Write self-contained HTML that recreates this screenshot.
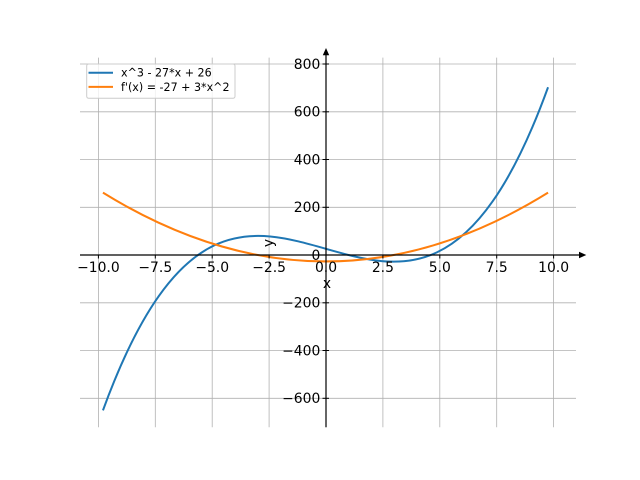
<!DOCTYPE html>
<html><head><meta charset="utf-8"><style>
html,body{margin:0;padding:0;background:#fff;}
svg{display:block;}
text{font-family:"DejaVu Sans","Liberation Sans",sans-serif;fill:#000;}
</style></head><body>
<svg width="640" height="480" viewBox="0 0 640 480" xmlns="http://www.w3.org/2000/svg">
<rect width="640" height="480" fill="#fff"/>
<!-- grid -->
<g stroke="#b0b0b0" stroke-width="0.8" fill="none">
<line x1="98.4" y1="57.6" x2="98.4" y2="427.2"/>
<line x1="155.3" y1="57.6" x2="155.3" y2="427.2"/>
<line x1="212.2" y1="57.6" x2="212.2" y2="427.2"/>
<line x1="269.1" y1="57.6" x2="269.1" y2="427.2"/>
<line x1="326" y1="57.6" x2="326" y2="427.2"/>
<line x1="382.9" y1="57.6" x2="382.9" y2="427.2"/>
<line x1="439.8" y1="57.6" x2="439.8" y2="427.2"/>
<line x1="496.7" y1="57.6" x2="496.7" y2="427.2"/>
<line x1="553.6" y1="57.6" x2="553.6" y2="427.2"/>
<line x1="80" y1="64" x2="576" y2="64"/>
<line x1="80" y1="111.8" x2="576" y2="111.8"/>
<line x1="80" y1="159.5" x2="576" y2="159.5"/>
<line x1="80" y1="207.3" x2="576" y2="207.3"/>
<line x1="80" y1="255" x2="576" y2="255"/>
<line x1="80" y1="302.8" x2="576" y2="302.8"/>
<line x1="80" y1="350.5" x2="576" y2="350.5"/>
<line x1="80" y1="398.3" x2="576" y2="398.3"/>
</g>
<!-- curves -->
<path d="M102.95,410.35 C251.65,2.98 400.35,494.6 548.05,87.23" fill="none" stroke="#1f77b4" stroke-width="2"/>
<path d="M102.95,192.65 Q326,330.25 548.05,192.65" fill="none" stroke="#ff7f0e" stroke-width="2"/>
<!-- spines -->
<g stroke="#000" stroke-width="1.2" fill="none">
<line x1="80" y1="255" x2="580" y2="255"/>
<line x1="326" y1="427.2" x2="326" y2="55"/>
</g>
<polygon points="586.3,255 579,251.8 579,258.2" fill="#000"/>
<polygon points="326,48 322.8,55.3 329.2,55.3" fill="#000"/>
<!-- ticks -->
<g stroke="#000" stroke-width="1">
<line x1="98.4" y1="255" x2="98.4" y2="258.5"/>
<line x1="155.3" y1="255" x2="155.3" y2="258.5"/>
<line x1="212.2" y1="255" x2="212.2" y2="258.5"/>
<line x1="269.1" y1="255" x2="269.1" y2="258.5"/>
<line x1="326" y1="255" x2="326" y2="258.5"/>
<line x1="382.9" y1="255" x2="382.9" y2="258.5"/>
<line x1="439.8" y1="255" x2="439.8" y2="258.5"/>
<line x1="496.7" y1="255" x2="496.7" y2="258.5"/>
<line x1="553.6" y1="255" x2="553.6" y2="258.5"/>
<line x1="322.5" y1="64" x2="329" y2="64"/>
<line x1="322.5" y1="111.8" x2="329" y2="111.8"/>
<line x1="322.5" y1="159.5" x2="329" y2="159.5"/>
<line x1="322.5" y1="207.3" x2="329" y2="207.3"/>
<line x1="322.5" y1="255" x2="329" y2="255"/>
<line x1="322.5" y1="302.8" x2="329" y2="302.8"/>
<line x1="322.5" y1="350.5" x2="329" y2="350.5"/>
<line x1="322.5" y1="398.3" x2="329" y2="398.3"/>
</g>
<!-- x tick labels -->
<g font-size="13.9" text-anchor="middle">
<text x="98.4" y="272">−10.0</text>
<text x="155.3" y="272">−7.5</text>
<text x="212.2" y="272">−5.0</text>
<text x="269.1" y="272">−2.5</text>
<text x="326" y="272">0.0</text>
<text x="382.9" y="272">2.5</text>
<text x="439.8" y="272">5.0</text>
<text x="496.7" y="272">7.5</text>
<text x="553.6" y="272">10.0</text>
</g>
<!-- y tick labels -->
<g font-size="13.9" text-anchor="end">
<text x="320.3" y="68.9">800</text>
<text x="320.3" y="116.7">600</text>
<text x="320.3" y="164.4">400</text>
<text x="320.3" y="212.2">200</text>
<text x="320.3" y="259.9">0</text>
<text x="320.3" y="307.7">−200</text>
<text x="320.3" y="355.4">−400</text>
<text x="320.3" y="403.2">−600</text>
</g>
<!-- axis labels -->
<text x="327" y="288" font-size="13.9" text-anchor="middle">x</text>
<text x="0" y="0" font-size="13.9" text-anchor="middle" transform="translate(273,243) rotate(-90)">y</text>
<!-- legend -->
<rect x="86.7" y="64" width="148.3" height="34.3" rx="2" ry="2" fill="#fff" fill-opacity="0.8" stroke="#cccccc" stroke-width="1"/>
<line x1="88.5" y1="72.7" x2="113" y2="72.7" stroke="#1f77b4" stroke-width="2"/>
<line x1="88.5" y1="86.9" x2="113" y2="86.9" stroke="#ff7f0e" stroke-width="2"/>
<g font-size="11.1">
<text x="121" y="76.7">x^3 - 27*x + 26</text>
<text x="121" y="91">f'(x) = -27 + 3*x^2</text>
</g>
</svg>
</body></html>
